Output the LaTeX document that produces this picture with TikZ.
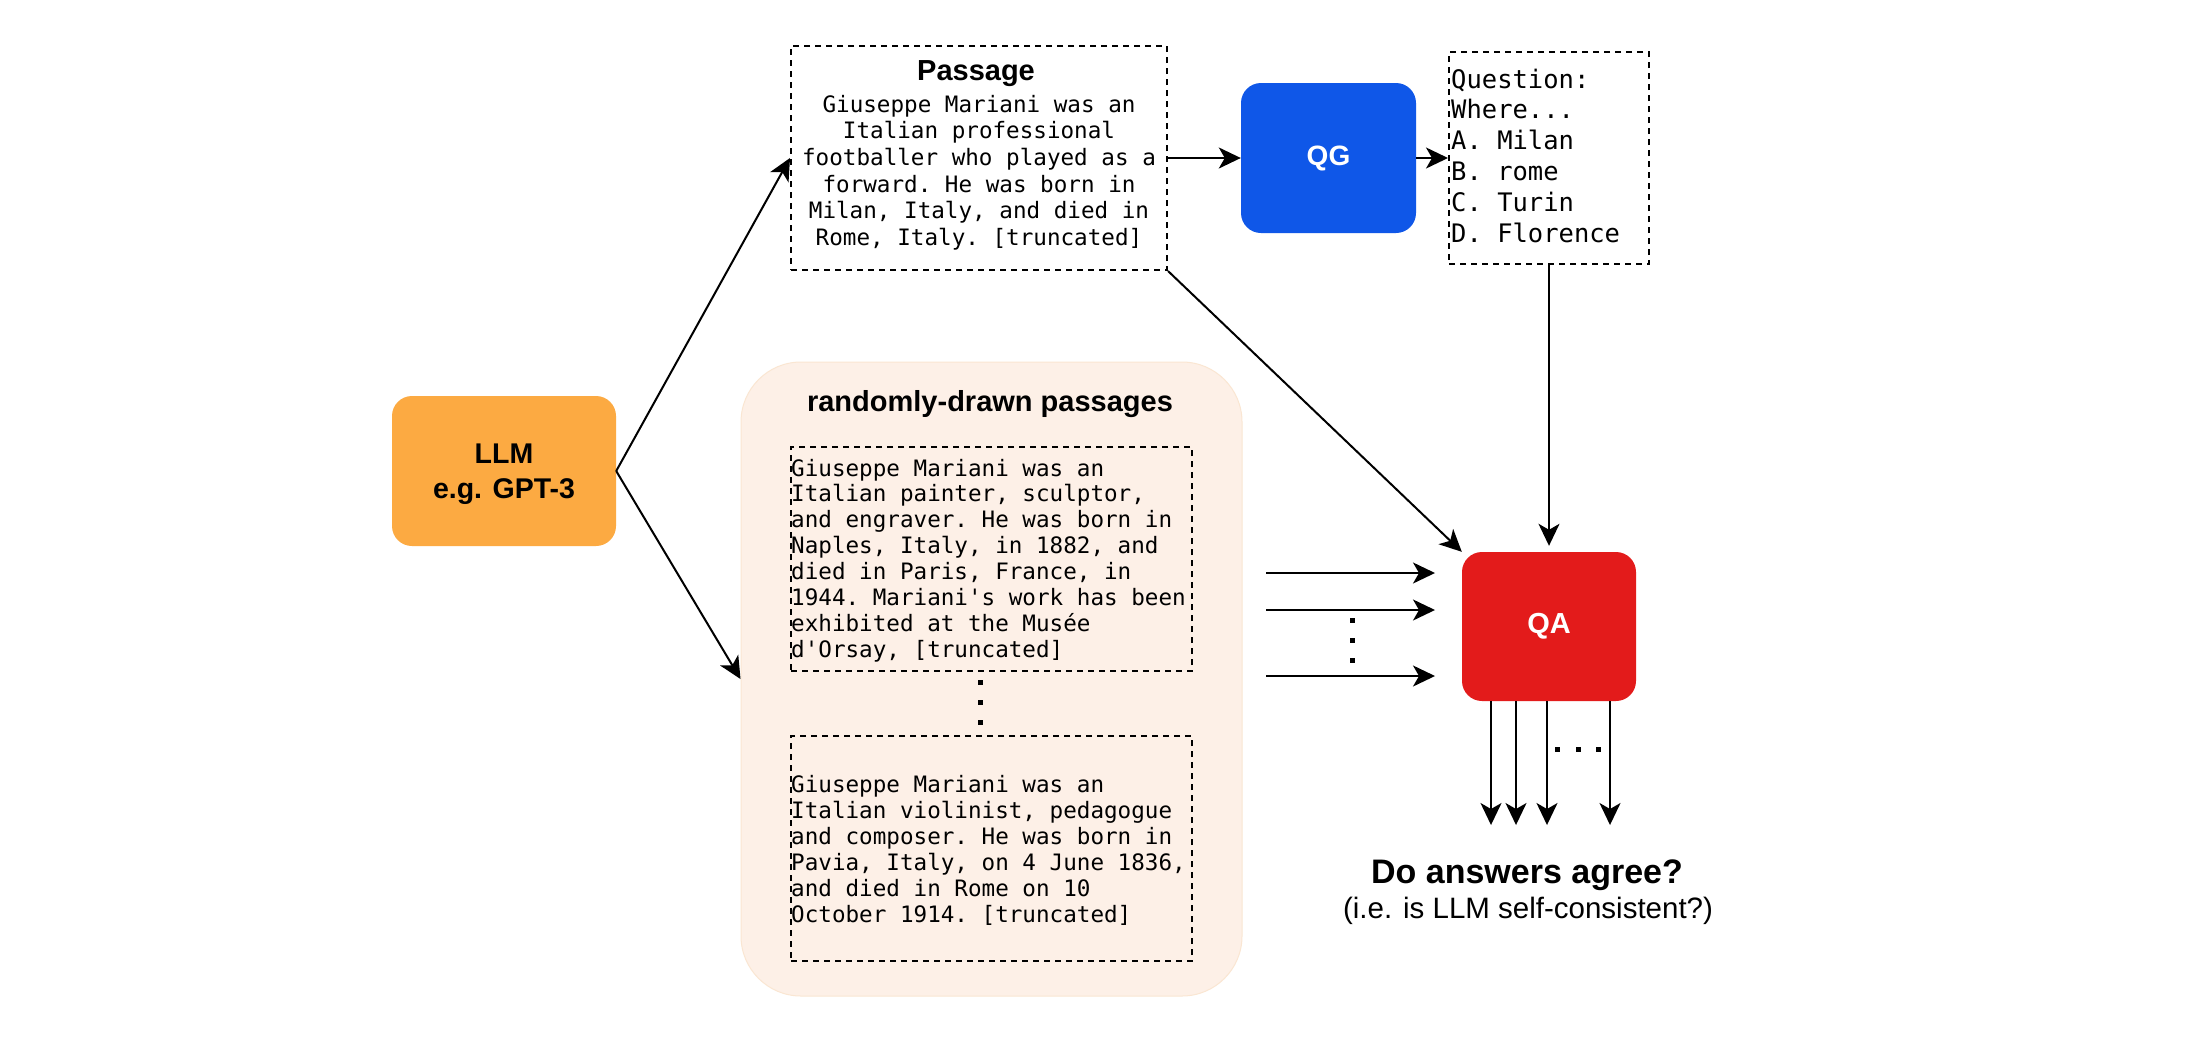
\documentclass[tikz,border=0pt]{standalone}
\usepackage{fontspec}
\setmainfont{Liberation Sans}
\setmonofont{DejaVu Sans Mono}
\usetikzlibrary{arrows.meta}
\definecolor{llmorange}{RGB}{252,170,66}
\definecolor{qgblue}{RGB}{15,87,232}
\definecolor{qared}{RGB}{227,27,27}
\definecolor{peach}{RGB}{253,240,231}
\definecolor{peachedge}{RGB}{250,230,210}
\newcommand{\vlines}[2]{\vtop{\baselineskip=#1\relax\lineskiplimit=-100pt\lineskip=0pt\relax #2}}
\newcommand{\Cln}[1]{\hbox to 0pt{\hss #1\hss}}
\newcommand{\Lln}[1]{\hbox{#1}}
\begin{document}
\begin{tikzpicture}[x=1pt,y=-1pt,
  arr/.style={line width=2pt, -{Stealth[length=22pt,width=21pt,inset=6pt]}},
  dbox/.style={draw, line width=2pt, dash pattern=on 6pt off 5pt, inner sep=0pt},
  solidbox/.style={rounded corners=20pt, inner sep=0pt, text=white, font=\bfseries\fontsize{28pt}{34pt}\selectfont},
  btitle/.style={anchor=base, inner sep=0pt, font=\bfseries\fontsize{29pt}{35pt}\selectfont},
  monotext/.style={inner sep=0pt, font=\ttfamily\fontsize{22.6pt}{26pt}\selectfont},
  qtext/.style={inner sep=0pt, font=\ttfamily\fontsize{25.5pt}{31pt}\selectfont},
  dot/.style={fill=black}
]
\useasboundingbox (0,0) rectangle (2200,1050);
\fill[white] (0,0) rectangle (2200,1050);

% LLM
\node[fill=llmorange, rounded corners=20pt, minimum width=224pt, minimum height=150pt] (llm) at (504,471) {};
\node[btitle, font=\bfseries\fontsize{28.5pt}{35pt}\selectfont] (llmtext) at (504,463) {\vlines{35pt}{\Cln{LLM}\Cln{e.g. GPT-3}}};

% Passage
\node[dbox, minimum width=376pt, minimum height=224pt] (passage) at (979,158) {};
\node[btitle] (ptitle) at (976,80) {Passage};
\node[monotext, anchor=base] (ptext) at (979,112) {\vlines{26.7pt}{\Cln{Giuseppe Mariani was an}\Cln{Italian professional}\Cln{footballer who played as a}\Cln{forward. He was born in}\Cln{Milan, Italy, and died in}\Cln{Rome, Italy. [truncated]}}};

% QG
\node[solidbox, fill=qgblue, minimum width=175pt, minimum height=150pt] (qg) at (1328.5,158) {QG};

% Question
\node[dbox, minimum width=200pt, minimum height=212pt] (question) at (1549,158) {};
\node[qtext, anchor=base west] (qtxt) at (1451,88) {\vlines{30.9pt}{\Lln{Question:}\Lln{Where...}\Lln{A. Milan}\Lln{B. rome}\Lln{C. Turin}\Lln{D. Florence}}};

% pool of random passages
\node[fill=peach, draw=peachedge, line width=1pt, rounded corners=60pt, minimum width=501pt, minimum height=634pt] (pool) at (991.5,679) {};
\node[btitle] (pooltitle) at (990,411) {randomly-drawn passages};

\node[dbox, minimum width=401pt, minimum height=224pt] (rp1) at (991.5,559) {};
\node[monotext, anchor=base west] (rp1text) at (791,476) {\vlines{25.9pt}{\Lln{Giuseppe Mariani was an}\Lln{Italian painter, sculptor,}\Lln{and engraver. He was born in}\Lln{Naples, Italy, in 1882, and}\Lln{died in Paris, France, in}\Lln{1944. Mariani's work has been}\Lln{exhibited at the Musée}\Lln{d'Orsay, [truncated]}}};

\fill[dot] (977.5,679.5) rectangle (982.5,684.5);
\fill[dot] (977.5,699.5) rectangle (982.5,704.5);
\fill[dot] (977.5,719.5) rectangle (982.5,724.5);

\node[dbox, minimum width=401pt, minimum height=225pt] (rp2) at (991.5,848.5) {};
\node[monotext, anchor=base west] (rp2text) at (791,792) {\vlines{26pt}{\Lln{Giuseppe Mariani was an}\Lln{Italian violinist, pedagogue}\Lln{and composer. He was born in}\Lln{Pavia, Italy, on 4 June 1836,}\Lln{and died in Rome on 10}\Lln{October 1914. [truncated]}}};

% QA
\node[solidbox, fill=qared, font=\bfseries\fontsize{29pt}{34pt}\selectfont, minimum width=174pt, minimum height=149pt] (qa) at (1549,626.5) {QA};

% arrows
\draw[arr] (llm.east) -- (passage.west);
\draw[arr] (llm.east) -- (pool.west);
\draw[arr] (passage.east) -- (qg.west);
\draw[arr] (qg.east) -- (question.west);
\draw[arr] (passage.south east) -- (qa.north west);
\draw[arr, shorten >=6pt] (question.south) -- (qa.north);

% inputs to QA
\coordinate (i1s) at (1266,573); \coordinate (i1e) at (1435,573);
\coordinate (i2s) at (1266,610); \coordinate (i2e) at (1435,610);
\coordinate (i3s) at (1266,676); \coordinate (i3e) at (1435,676);
\draw[arr] (i1s) -- (i1e);
\draw[arr] (i2s) -- (i2e);
\draw[arr] (i3s) -- (i3e);
\fill[dot] (1349.5,617.5) rectangle (1354.5,622.5);
\fill[dot] (1349.5,637.5) rectangle (1354.5,642.5);
\fill[dot] (1349.5,657.5) rectangle (1354.5,662.5);

% outputs of QA
\coordinate (o1) at (1491,825);
\coordinate (o2) at (1516,825);
\coordinate (o3) at (1547,825);
\coordinate (o4) at (1610,825);
\draw[arr] (qa.south -| o1) -- (o1);
\draw[arr] (qa.south -| o2) -- (o2);
\draw[arr] (qa.south -| o3) -- (o3);
\draw[arr] (qa.south -| o4) -- (o4);
\fill[dot] (1554.5,746.5) rectangle (1559.5,751.5);
\fill[dot] (1575.5,746.5) rectangle (1580.5,751.5);
\fill[dot] (1595.5,746.5) rectangle (1600.5,751.5);

\node[anchor=base, inner sep=0pt, font=\bfseries\fontsize{34pt}{40pt}\selectfont] (agree) at (1527,883) {Do answers agree?};
\node[anchor=base, inner sep=0pt, font=\fontsize{29.5pt}{35pt}\selectfont] (consist) at (1528,918) {(i.e. is LLM self-consistent?)};
\end{tikzpicture}
\end{document}
